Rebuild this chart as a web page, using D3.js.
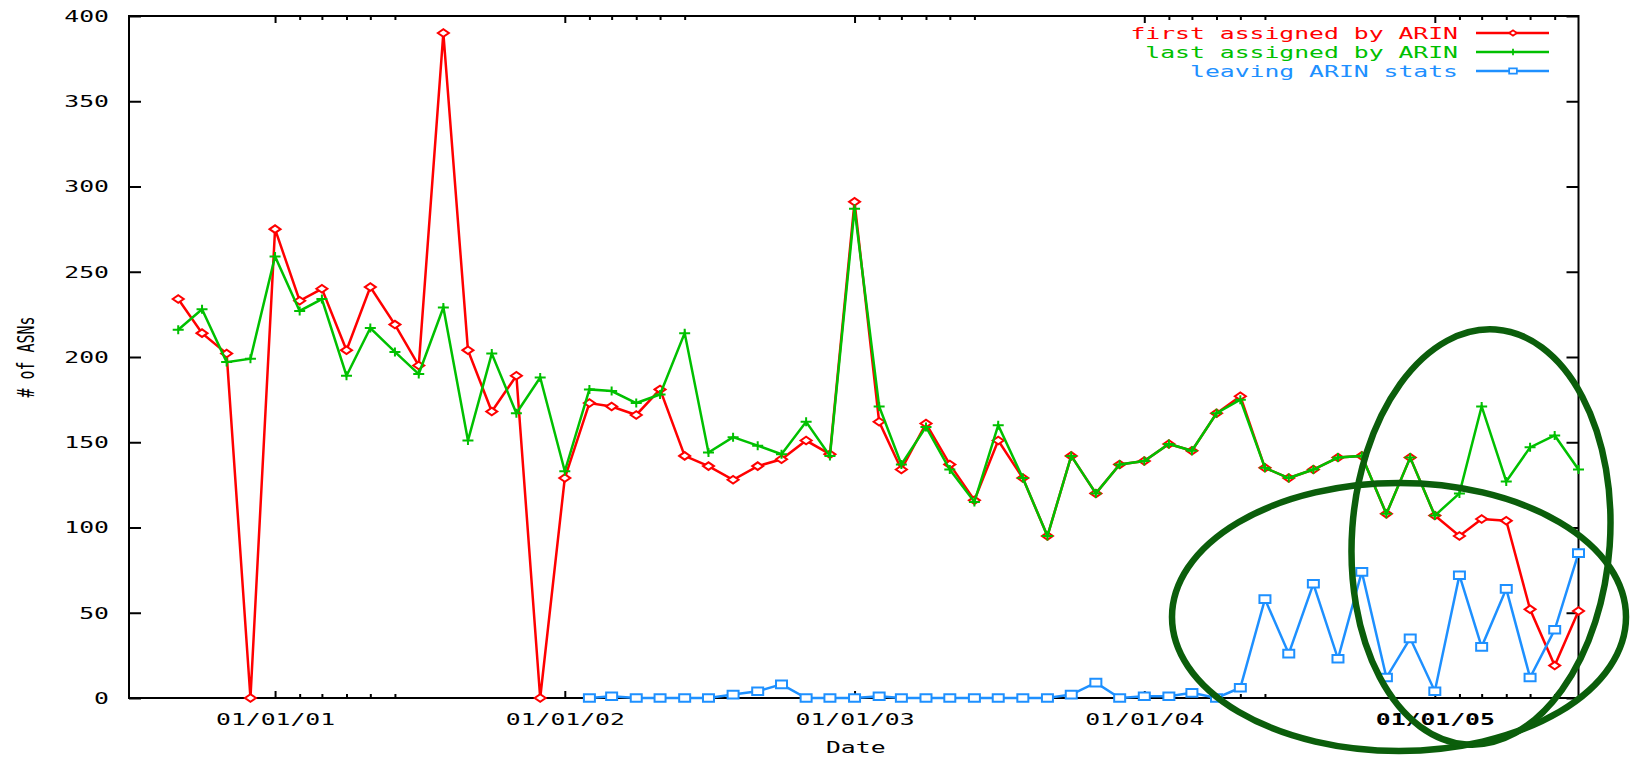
<!DOCTYPE html>
<html>
<head>
<meta charset="utf-8">
<script src="https://cdn.jsdelivr.net/npm/d3@7/dist/d3.min.js"></script>
<style>
  html, body { margin: 0; padding: 0; background: #ffffff; }
  svg { display: block; }
</style>
</head>
<body>
<svg id="chart" width="1640" height="758"></svg>
<script>
// ---------------- DATA ----------------
const months = [
  "2000-09","2000-10","2000-11","2000-12",
  "2001-01","2001-02","2001-03","2001-04","2001-05","2001-06","2001-07","2001-08","2001-09","2001-10","2001-11","2001-12",
  "2002-01","2002-02","2002-03","2002-04","2002-05","2002-06","2002-07","2002-08","2002-09","2002-10","2002-11","2002-12",
  "2003-01","2003-02","2003-03","2003-04","2003-05","2003-06","2003-07","2003-08","2003-09","2003-10","2003-11","2003-12",
  "2004-01","2004-02","2004-03","2004-04","2004-05","2004-06","2004-07","2004-08","2004-09","2004-10","2004-11","2004-12",
  "2005-01","2005-02","2005-03","2005-04","2005-05","2005-06","2005-07"
];
const firstAssigned = [
  234,214,202,0,
  275,233,240,204,241,219,195,390,204,168,189,0,
  129,173,171,166,181,142,136,128,136,140,151,143,
  291,162,134,161,137,116,151,129,95,142,120,137,
  139,149,145,167,177,135,129,134,141,142,108,141,
  107,95,105,104,52,19,51
];
const lastAssigned = [
  216,228,197,199,
  259,227,234,189,217,203,190,229,151,202,167,188,
  133,181,180,173,178,214,144,153,148,143,162,142,
  287,171,137,159,134,115,160,129,95,142,120,137,
  139,149,145,167,175,135,129,134,141,142,108,141,
  107,120,171,127,147,154,134
];
// leaving ARIN stats starts in 2002-02
const leavingStart = "2002-02";
const leavingStats = [
  0,1,0,0,0,0,2,4,8,0,0,
  0,1,0,0,0,0,0,0,0,2,9,0,
  1,1,3,0,6,58,26,67,23,74,12,35,
  4,72,30,64,12,40,85
];
const seriesNames = ["first assigned by ARIN", "last assigned by ARIN", "leaving ARIN stats"];
const seriesColors = ["#ff0000", "#00c000", "#1e90ff"];
const yTicks = [0,50,100,150,200,250,300,350,400];
const majorXTicks = ["2001-01-01","2002-01-01","2003-01-01","2004-01-01","2005-01-01"];
const minorXTicks = [
  "2001-02-01","2001-03-01","2001-04-01","2001-05-01","2001-06-01",
  "2002-02-01","2002-03-01","2002-04-01","2002-05-01","2002-06-01",
  "2003-02-01","2003-03-01","2003-04-01","2003-05-01","2003-06-01",
  "2004-02-01","2004-03-01","2004-04-01","2004-05-01","2004-06-01",
  "2005-02-01","2005-03-01","2005-04-01","2005-05-01","2005-06-01"
];
const xDomain = ["2000-07-01","2005-07-01"];
const yLabel = "# of ASNs";
const xLabel = "Date";

(function () {
// ---------------- LAYOUT ----------------
const pL = 129, pR = 1578.5, pT = 16, pB = 698;
const FONT = "'DejaVu Sans Mono', 'Liberation Mono', monospace";
const FS = 16.5, SX = 1.5;

const parseMonth = d3.utcParse("%Y-%m");
const parseDay = d3.utcParse("%Y-%m-%d");
const svg = d3.select("#chart");

const x = d3.scaleUtc().domain(xDomain.map(parseDay)).range([pL, pR]);
const y = d3.scaleLinear().domain([0, 400]).range([pB, pT]);

function stretchTexts(sel) {
  sel.selectAll("text").each(function () {
    const t = d3.select(this);
    const tx = +t.attr("x") || 0, ty = +t.attr("y") || 0;
    t.attr("x", 0).attr("y", 0)
     .attr("transform", `translate(${tx},${ty}) scale(${SX},1)`);
  });
}
function styleAxis(g) {
  g.attr("font-family", FONT).attr("font-size", FS);
  g.select(".domain").remove();
  g.selectAll(".tick line").attr("stroke", "#000").attr("stroke-width", 2);
  g.selectAll(".tick text").attr("fill", "#000");
}

// Y axes
const gyl = svg.append("g").attr("transform", `translate(${pL},0)`)
  .call(d3.axisLeft(y).tickValues(yTicks).tickSizeInner(-12).tickSizeOuter(0).tickPadding(20).tickFormat(d3.format("d")));
styleAxis(gyl); stretchTexts(gyl);
const gyr = svg.append("g").attr("transform", `translate(${pR},0)`)
  .call(d3.axisRight(y).tickValues(yTicks).tickSizeInner(-12).tickSizeOuter(0).tickFormat(""));
styleAxis(gyr);

// X axes
const fmt = d3.utcFormat("%m/%d/%y");
const gxb = svg.append("g").attr("transform", `translate(0,${pB})`)
  .call(d3.axisBottom(x).tickValues(majorXTicks.map(parseDay)).tickSizeInner(-7).tickSizeOuter(0).tickPadding(15).tickFormat(fmt));
styleAxis(gxb); stretchTexts(gxb);
gxb.selectAll(".tick text").filter(d => d.getUTCFullYear() === 2005).attr("font-weight", "bold");
const gxbm = svg.append("g").attr("transform", `translate(0,${pB})`)
  .call(d3.axisBottom(x).tickValues(minorXTicks.map(parseDay)).tickSizeInner(-4).tickSizeOuter(0).tickFormat(""));
styleAxis(gxbm);
const gxt = svg.append("g").attr("transform", `translate(0,${pT})`)
  .call(d3.axisTop(x).tickValues(majorXTicks.map(parseDay)).tickSizeInner(-7).tickSizeOuter(0).tickFormat(""));
styleAxis(gxt);
const gxtm = svg.append("g").attr("transform", `translate(0,${pT})`)
  .call(d3.axisTop(x).tickValues(minorXTicks.map(parseDay)).tickSizeInner(-4).tickSizeOuter(0).tickFormat(""));
styleAxis(gxtm);

// Frame
svg.append("rect").attr("x", pL).attr("y", pT).attr("width", pR - pL).attr("height", pB - pT)
  .attr("fill", "none").attr("stroke", "#000").attr("stroke-width", 2);

// Axis titles
svg.append("text").attr("transform", `translate(${(pL + pR) / 2 + 2},753) scale(${SX},1)`)
  .attr("text-anchor", "middle").attr("font-family", FONT).attr("font-size", FS).attr("fill", "#000").text(xLabel);
svg.append("text").attr("transform", `translate(26,357) rotate(-90) scale(1,${SX})`)
  .attr("text-anchor", "middle").attr("dominant-baseline", "central")
  .attr("font-family", FONT).attr("font-size", 15).attr("fill", "#000").text(yLabel);

// Series
const startIdx = months.indexOf(leavingStart);
const series = [
  { vals: firstAssigned.map((v, i) => ({ d: parseMonth(months[i]), v })), marker: "diamond" },
  { vals: lastAssigned.map((v, i) => ({ d: parseMonth(months[i]), v })), marker: "plus" },
  { vals: leavingStats.map((v, i) => ({ d: parseMonth(months[startIdx + i]), v })), marker: "square" }
];
const markerPaths = {
  diamond: "M-5.5,0L0,-3.8L5.5,0L0,3.8Z",
  plus: "M-5.5,0H5.5M0,-4.5V4.5",
  square: "M-5.5,-3.8H5.5V3.8H-5.5Z"
};
const line = d3.line().x(d => x(d.d)).y(d => y(d.v));
const plot = svg.append("g");
series.forEach((s, k) => {
  const g = plot.append("g");
  g.append("path").datum(s.vals).attr("d", line).attr("fill", "none")
    .attr("stroke", seriesColors[k]).attr("stroke-width", 2.5).attr("stroke-linejoin", "miter");
  g.selectAll("path.m").data(s.vals).join("path").attr("class", "m")
    .attr("transform", d => `translate(${x(d.d)},${y(d.v)})`)
    .attr("d", markerPaths[s.marker]).attr("fill", s.marker === "plus" ? "none" : "#fff")
    .attr("stroke", seriesColors[k]).attr("stroke-width", 2);
});

// Legend
const legend = svg.append("g");
seriesNames.forEach((name, k) => {
  const ly = 33 + k * 19;
  legend.append("text").attr("transform", `translate(1458,${ly}) scale(${SX},1)`)
    .attr("text-anchor", "end").attr("dominant-baseline", "central")
    .attr("font-family", FONT).attr("font-size", FS).attr("fill", seriesColors[k]).text(name);
  legend.append("line").attr("x1", 1476).attr("x2", 1549).attr("y1", ly).attr("y2", ly)
    .attr("stroke", seriesColors[k]).attr("stroke-width", 2.5);
  legend.append("path").attr("transform", `translate(1513,${ly}) scale(0.7)`)
    .attr("d", markerPaths[series[k].marker]).attr("fill", series[k].marker === "plus" ? "none" : "#fff")
    .attr("stroke", seriesColors[k]).attr("stroke-width", 2.5);
});

// Hand-drawn annotation ellipses
const ann = svg.append("g").attr("fill", "none").attr("stroke", "#0b5e0b").attr("stroke-width", 6.5);
ann.append("ellipse").attr("cx", 1399).attr("cy", 617).attr("rx", 227).attr("ry", 134);
ann.append("ellipse").attr("transform", "translate(1481,537) rotate(4)").attr("rx", 129).attr("ry", 208);
})();
</script>
</body>
</html>
